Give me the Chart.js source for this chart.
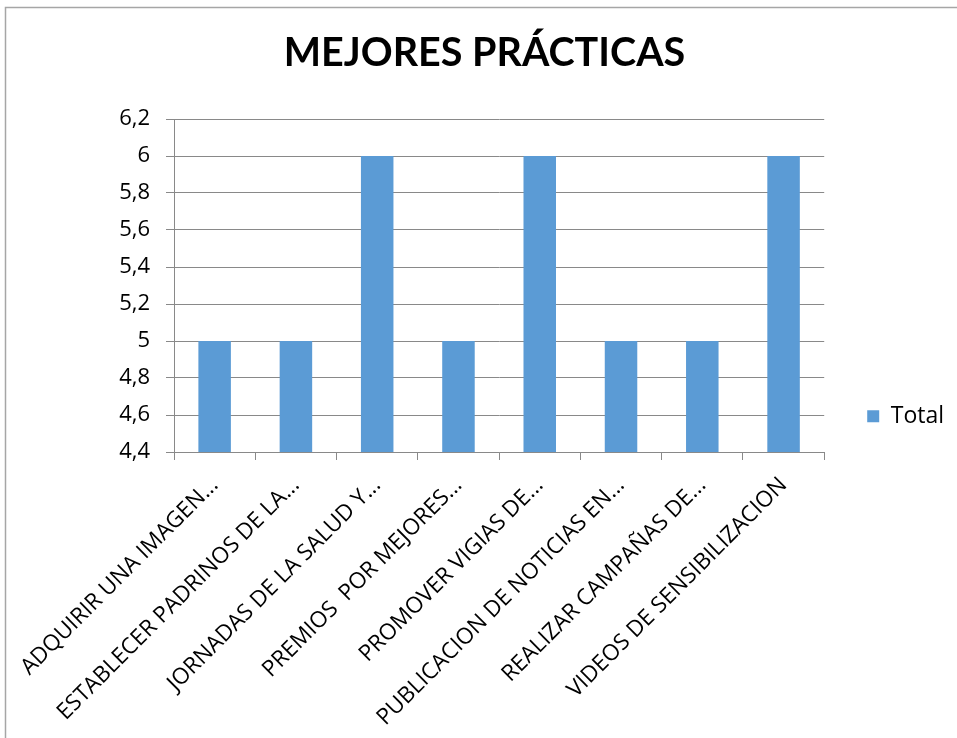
<!DOCTYPE html>
<html lang="es">
<head>
<meta charset="utf-8">
<title>Mejores prácticas</title>
<script src="https://cdn.jsdelivr.net/npm/chart.js@4/dist/chart.umd.min.js"></script>
<style>
    html, body { margin: 0; padding: 0; background: #ffffff; }
    #chartBox { position: relative; width: 957px; height: 738px; }
</style>
</head>
<body>
<div id="chartBox">
    <canvas id="practicasChart" width="957" height="738"></canvas>
</div>
<script>
// Chart data
const categorias = [
    'ADQUIRIR UNA IMAGEN...',
    'ESTABLECER PADRINOS DE LA...',
    'JORNADAS DE LA SALUD Y...',
    'PREMIOS  POR MEJORES...',
    'PROMOVER VIGIAS DE...',
    'PUBLICACION DE NOTICIAS EN...',
    'REALIZAR CAMPAÑAS DE...',
    'VIDEOS DE SENSIBILIZACION'
];
const totales = [5, 5, 6, 5, 6, 5, 5, 6];
const ejeYMin = 4.4;
const ejeYMax = 6.2;
const ejeYPaso = 0.2;

const fuenteEjes = '"Open Sans", sans-serif';
const fuenteTitulo = 'Lato, "Open Sans", sans-serif';
const colorGris = '#898989';

// Thin grey frame around the chart
const marcoPlugin = {
    id: 'marco',
    beforeDraw(chart) {
        const ctx = chart.ctx;
        ctx.save();
        ctx.strokeStyle = '#a6a6a6';
        ctx.lineWidth = 1.5;
        ctx.strokeRect(5.5, 7.5, 2000, 2000);
        ctx.restore();
    }
};

// Decimal comma for the y axis labels
function formatoComa(value) {
    const v = Math.round(value * 10) / 10;
    return v.toString().replace('.', ',');
}

document.addEventListener('DOMContentLoaded', function() {
    const ctx = document.getElementById('practicasChart').getContext('2d');
    new Chart(ctx, {
        type: 'bar',
        data: {
            labels: categorias,
            datasets: [{
                label: 'Total',
                data: totales,
                backgroundColor: '#5b9bd5',
                borderWidth: 0,
                barPercentage: 0.4,
                categoryPercentage: 1
            }]
        },
        options: {
            responsive: false,
            animation: false,
            layout: {
                padding: { left: 15, right: 3, top: 0, bottom: 0 }
            },
            scales: {
                y: {
                    min: ejeYMin,
                    max: ejeYMax,
                    afterFit: function(scale) { scale.width = 159; },
                    ticks: {
                        stepSize: ejeYPaso,
                        color: '#000000',
                        padding: 16,
                        font: { family: fuenteEjes, size: 22 },
                        callback: formatoComa
                    },
                    grid: {
                        color: colorGris,
                        lineWidth: 1,
                        tickLength: 8
                    },
                    border: { color: colorGris, width: 1 }
                },
                // empty axis that only keeps a gap between the plot and the legend
                yHueco: {
                    position: 'right',
                    afterFit: function(scale) { scale.width = 33; },
                    ticks: { display: false },
                    grid: { display: false },
                    border: { display: false }
                },
                x: {
                    afterFit: function(scale) { scale.height = 286; },
                    ticks: {
                        color: '#000000',
                        minRotation: 45,
                        maxRotation: 45,
                        autoSkip: false,
                        padding: 12,
                        labelOffset: 0,
                        font: { family: fuenteEjes, size: 22.5 }
                    },
                    grid: {
                        offset: true,
                        drawOnChartArea: false,
                        color: colorGris,
                        tickLength: 8
                    },
                    border: { color: colorGris, width: 1 }
                }
            },
            plugins: {
                title: {
                    display: true,
                    text: 'MEJORES PRÁCTICAS',
                    color: '#000000',
                    font: { family: fuenteTitulo, size: 39.5, weight: 'bold' },
                    padding: { top: 30, bottom: 41.6 }
                },
                legend: {
                    position: 'right',
                    title: { display: true, text: '', padding: { top: 80, bottom: 0 }, font: { size: 12 } },
                    labels: {
                        color: '#000000',
                        boxWidth: 12,
                        boxHeight: 12,
                        padding: 10,
                        font: { family: fuenteEjes, size: 23 }
                    }
                },
                tooltip: { enabled: false }
            }
        },
        plugins: [marcoPlugin]
    });
});
</script>
</body>
</html>
